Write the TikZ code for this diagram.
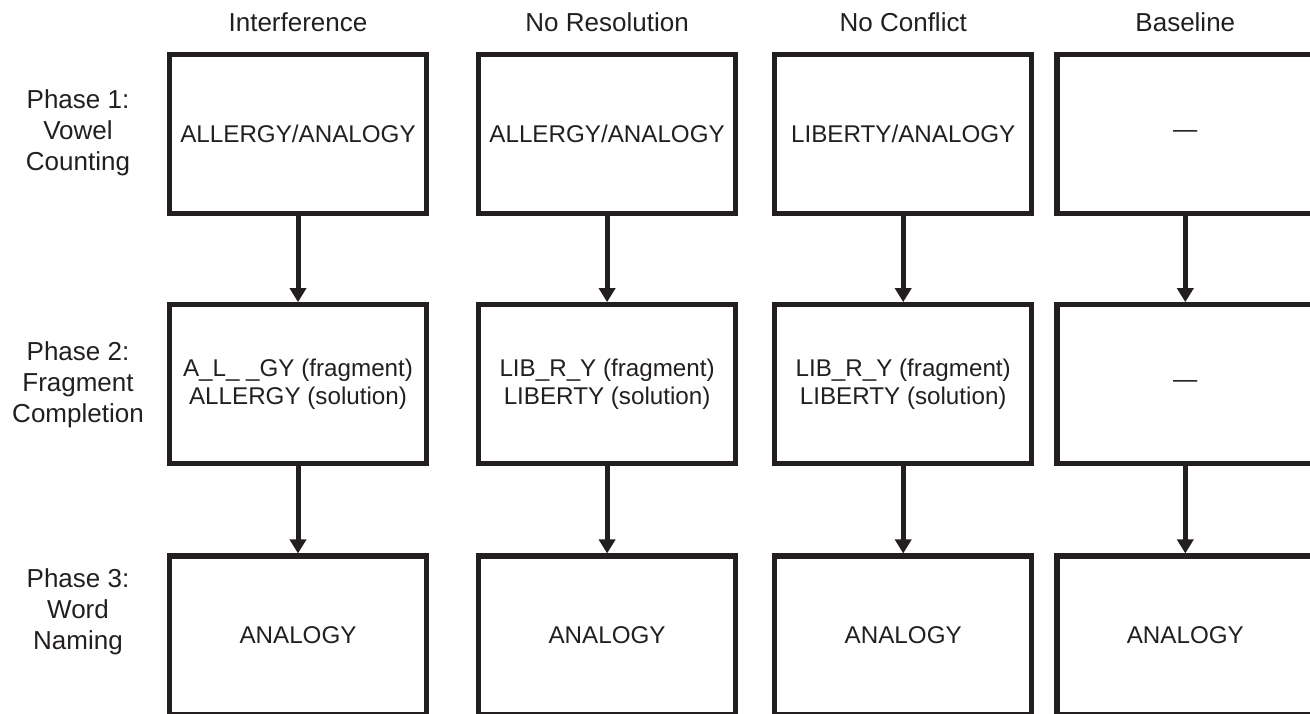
\documentclass[tikz,border=0pt]{standalone}
\usepackage{fontspec}
\setmainfont{Liberation Sans}
\usetikzlibrary{arrows.meta,positioning}
\definecolor{ink}{HTML}{231F20}

\begin{document}
\begin{tikzpicture}[
  x=0.5pt, y=-0.5pt,
  every node/.style={text=ink},
  box/.style={draw=ink, line width=2.65pt, align=center, minimum width=128.4pt, minimum height=79.5pt,
    font=\fontsize{12.1}{14}\selectfont},
  head/.style={inner sep=0pt, font=\fontsize{13}{15.5}\selectfont},
  phase/.style={align=center, inner sep=0pt, font=\fontsize{13}{15.5}\selectfont},
  arrow/.style={-{Triangle[width=8pt,length=7pt]}, draw=ink, line width=2.5pt}
]
\useasboundingbox (0,0) rectangle (1310,713);

% phase 1
\node[box] (r1c1) at (298,134) {ALLERGY/ANALOGY};
\node[box, right=23.5pt of r1c1] (r1c2) {ALLERGY/ANALOGY};
\node[box, right=17pt of r1c2] (r1c3) {LIBERTY/ANALOGY};
\node[box, right=10pt of r1c3] (r1c4) {\textemdash};

% phase 2
\node[box, below=43pt of r1c1] (r2c1) {A\_L\_ \_GY (fragment)\\ALLERGY (solution)};
\node[box, below=43pt of r1c2] (r2c2) {LIB\_R\_Y (fragment)\\LIBERTY (solution)};
\node[box, below=43pt of r1c3] (r2c3) {LIB\_R\_Y (fragment)\\LIBERTY (solution)};
\node[box, below=43pt of r1c4] (r2c4) {\textemdash};

% phase 3
\node[box, below=43.5pt of r2c1] (r3c1) {ANALOGY};
\node[box, below=43.5pt of r2c2] (r3c2) {ANALOGY};
\node[box, below=43.5pt of r2c3] (r3c3) {ANALOGY};
\node[box, below=43.5pt of r2c4] (r3c4) {ANALOGY};

% conditions
\node[head, above=10pt of r1c1] (interf) {Interference};
\node[head, above=10pt of r1c2] (nores) {No Resolution};
\node[head, above=10pt of r1c3] (noconf) {No Conflict};
\node[head, above=10pt of r1c4] (base) {Baseline};

\node[phase] (ph1) at (78,133) {Phase 1:\\Vowel\\Counting};
\node[phase] (ph2) at (78,385) {Phase 2:\\Fragment\\Completion};
\node[phase] (ph3) at (78,612) {Phase 3:\\Word\\Naming};

\draw[arrow] (r1c1) -- (r2c1);
\draw[arrow] (r1c2) -- (r2c2);
\draw[arrow] (r1c3) -- (r2c3);
\draw[arrow] (r1c4) -- (r2c4);
\draw[arrow] (r2c1) -- (r3c1);
\draw[arrow] (r2c2) -- (r3c2);
\draw[arrow] (r2c3) -- (r3c3);
\draw[arrow] (r2c4) -- (r3c4);

\end{tikzpicture}
\end{document}
